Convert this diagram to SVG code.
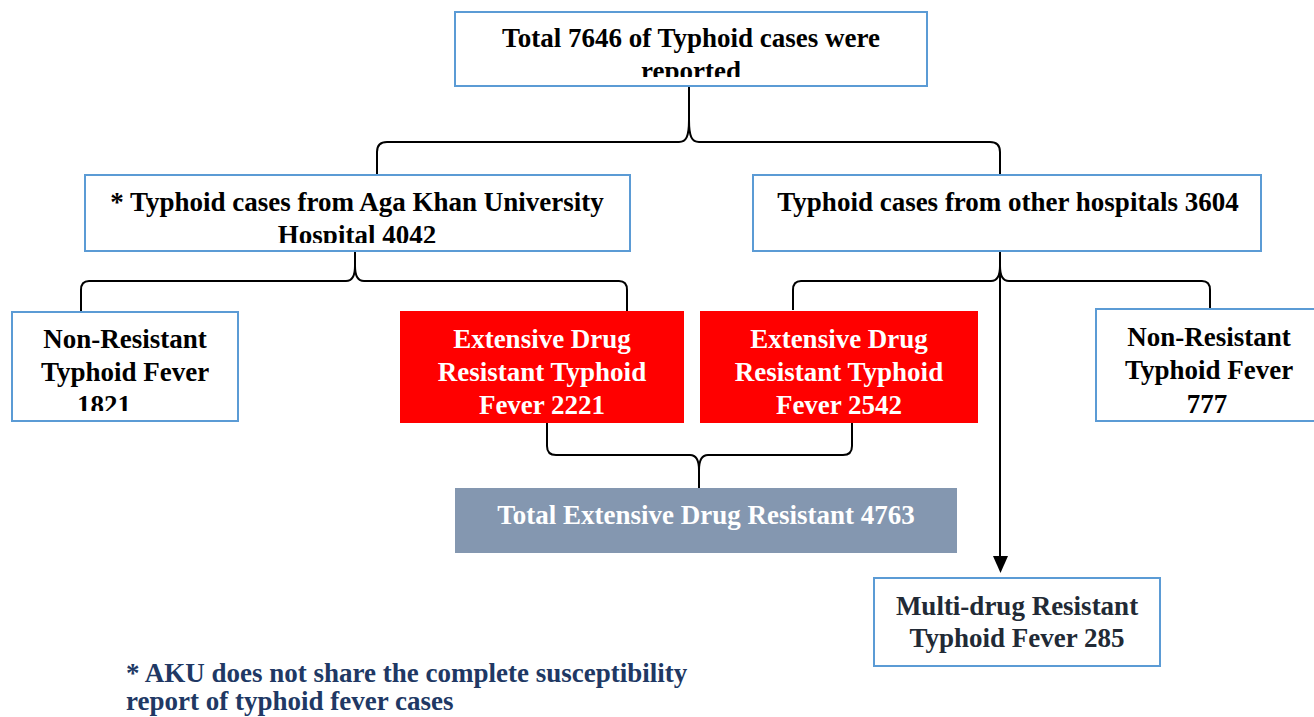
<svg xmlns="http://www.w3.org/2000/svg" width="1314" height="717" viewBox="0 0 1314 717">
<style>
.box{fill:#ffffff;stroke:#5b9bd5;stroke-width:2}
.red{fill:#ff0000}
.gray{fill:#8497b0}
.t{font-family:"Liberation Serif","Times New Roman",serif;font-weight:bold;font-size:27px;text-anchor:middle;fill:#000}
.w{fill:#ffffff}
.dk{fill:#222a35}
.fn{font-family:"Liberation Serif","Times New Roman",serif;font-weight:bold;font-size:27px;fill:#203864}
.c{fill:none;stroke:#000;stroke-width:2}
</style>
<defs>
<clipPath id="clipTop"><rect x="455" y="12" width="472" height="65"/></clipPath>
<clipPath id="clipAku"><rect x="85" y="175" width="545" height="68"/></clipPath>
<clipPath id="clipNrl"><rect x="12" y="312" width="226" height="99"/></clipPath>
</defs>
<g id="connectors">
<path class="c" d="M689,86 L689,120 C689,137 686,142 679,142 L387,142 C381,142 377,145 377,152 L377,175"/>
<path class="c" d="M689,120 C689,137 692,142 699,142 L990,142 C996,142 1000,145 1000,152 L1000,175"/>
<path class="c" d="M355,251 L355,266 C355,277 352,281 346,281 L89,281 C84,281 81,284 81,290 L81,311"/>
<path class="c" d="M355,266 C355,277 358,281 364,281 L619,281 C624,281 627,284 627,290 L627,311"/>
<path class="c" d="M1000,251 L1000,266 C1000,277 997,281 991,281 L801,281 C796,281 793,284 793,290 L793,310"/>
<path class="c" d="M1000,266 C1000,277 1003,281 1009,281 L1202,281 C1207,281 1210,284 1210,290 L1210,309"/>
<path class="c" d="M1000,251 L1000,558"/>
<polygon points="993,556 1008,556 1000.5,573" fill="#000"/>
<path class="c" d="M547,423 L547,446 C547,452 550,455 556,455 L690,455 C696,455 699,460 699,470 L699,488"/>
<path class="c" d="M852,423 L852,446 C852,452 849,455 843,455 L708,455 C702,455 699,460 699,470"/>
</g>
<g id="node-total">
<rect class="box" x="455" y="12" width="472" height="74"/>
<g clip-path="url(#clipTop)">
<text class="t" x="691" y="47">Total 7646 of Typhoid cases were</text>
<text class="t" x="691" y="80">reported</text>
</g>
</g>
<g id="node-aku">
<rect class="box" x="85" y="175" width="545" height="76"/>
<g clip-path="url(#clipAku)">
<text class="t" x="357" y="211">* Typhoid cases from Aga Khan University</text>
<text class="t" x="357" y="244">Hospital 4042</text>
</g>
</g>
<g id="node-other">
<rect class="box" x="753" y="175" width="508" height="76"/>
<text class="t" x="1008" y="211">Typhoid cases from other hospitals 3604</text>
</g>
<g id="node-nr-left">
<rect class="box" x="12" y="312" width="226" height="109"/>
<g clip-path="url(#clipNrl)">
<text class="t" x="125" y="348">Non-Resistant</text>
<text class="t" x="125" y="381">Typhoid Fever</text>
<text class="t" x="104" y="414">1821</text>
</g>
</g>
<g id="node-xdr-aku">
<rect class="red" x="400" y="311" width="284" height="112"/>
<text class="t w" x="542" y="348">Extensive Drug</text>
<text class="t w" x="542" y="381">Resistant Typhoid</text>
<text class="t w" x="542" y="414">Fever 2221</text>
</g>
<g id="node-xdr-other">
<rect class="red" x="700" y="311" width="278" height="112"/>
<text class="t w" x="839" y="348">Extensive Drug</text>
<text class="t w" x="839" y="381">Resistant Typhoid</text>
<text class="t w" x="839" y="414">Fever 2542</text>
</g>
<g id="node-nr-right">
<rect class="box" x="1096" y="309" width="219" height="112"/>
<text class="t" x="1209" y="346">Non-Resistant</text>
<text class="t" x="1209" y="379">Typhoid Fever</text>
<text class="t" x="1207" y="413">777</text>
</g>
<g id="node-xdr-total">
<rect class="gray" x="455" y="488" width="502" height="65"/>
<text class="t w" x="706" y="524">Total Extensive Drug Resistant 4763</text>
</g>
<g id="node-mdr">
<rect class="box" x="874" y="578" width="286" height="88"/>
<text class="t dk" x="1017" y="615">Multi-drug Resistant</text>
<text class="t dk" x="1017" y="647">Typhoid Fever 285</text>
</g>
<g id="footnote">
<text class="fn" x="126" y="682">* AKU does not share the complete susceptibility</text>
<text class="fn" x="126" y="710">report of typhoid fever cases</text>
</g>
</svg>
